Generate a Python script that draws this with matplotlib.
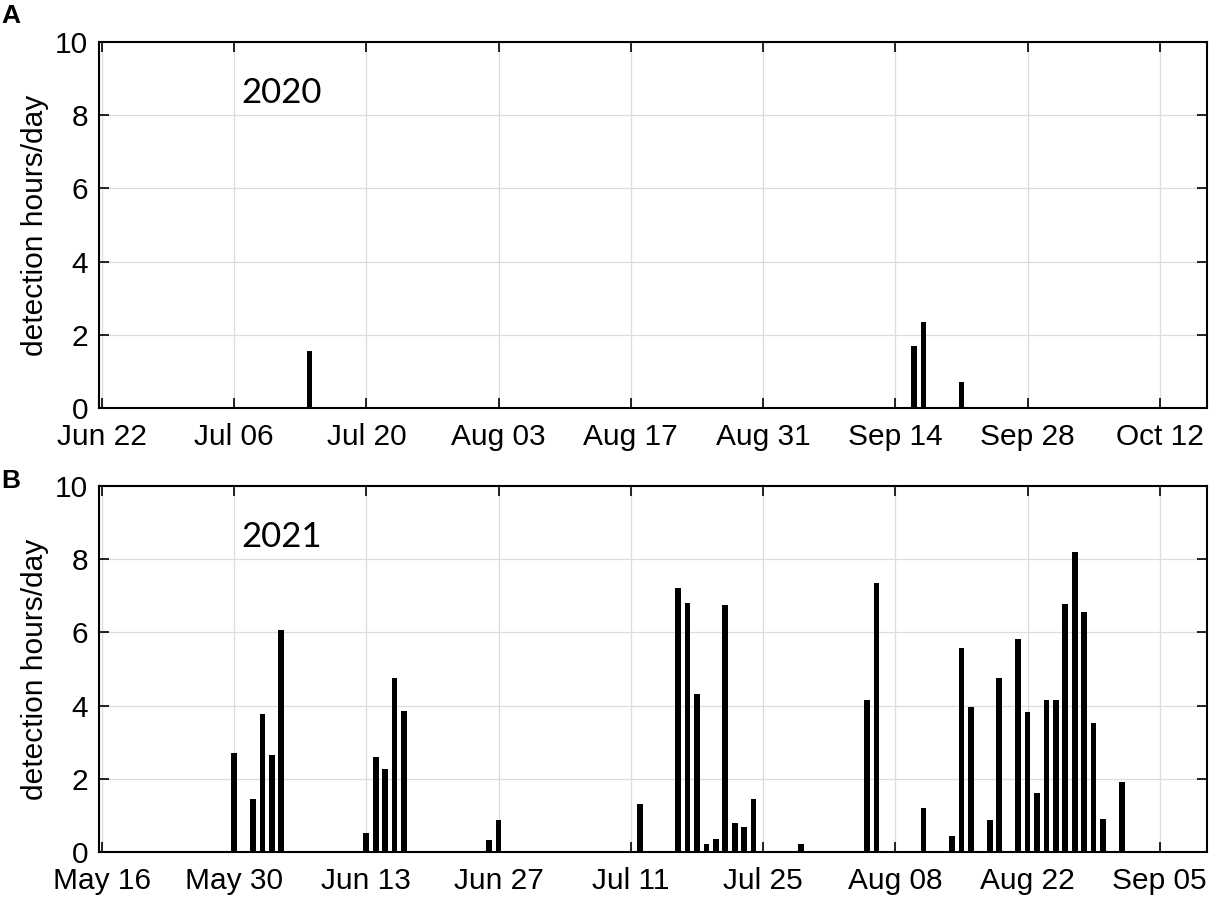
import matplotlib
matplotlib.use("Agg")
import matplotlib.pyplot as plt
import matplotlib.dates as mdates
import numpy as np

# 2020 season (panel A)
days_2020 = ["2020-07-14", "2020-09-16", "2020-09-17", "2020-09-21"]
hours_2020 = [1.55, 1.70, 2.36, 0.71]
ticks_2020 = ["2020-06-22", "2020-07-06", "2020-07-20", "2020-08-03", "2020-08-17",
              "2020-08-31", "2020-09-14", "2020-09-28", "2020-10-12"]

# 2021 season (panel B)
days_2021 = ["2021-05-30", "2021-06-01", "2021-06-02", "2021-06-03", "2021-06-04",
             "2021-06-13", "2021-06-14", "2021-06-15", "2021-06-16", "2021-06-17",
             "2021-06-26", "2021-06-27",
             "2021-07-12", "2021-07-16", "2021-07-17", "2021-07-18", "2021-07-19",
             "2021-07-20", "2021-07-21", "2021-07-22", "2021-07-23", "2021-07-24",
             "2021-07-29",
             "2021-08-05", "2021-08-06", "2021-08-11", "2021-08-14", "2021-08-15",
             "2021-08-16", "2021-08-18", "2021-08-19", "2021-08-21", "2021-08-22",
             "2021-08-23", "2021-08-24", "2021-08-25", "2021-08-26", "2021-08-27",
             "2021-08-28", "2021-08-29", "2021-08-30", "2021-09-01"]
hours_2021 = [2.70, 1.46, 3.76, 2.66, 6.06,
              0.52, 2.60, 2.26, 4.76, 3.86,
              0.32, 0.87,
              1.31, 7.20, 6.80, 4.31, 0.21,
              0.36, 6.76, 0.80, 0.67, 1.46,
              0.21,
              4.16, 7.36, 1.21, 0.43, 5.57,
              3.96, 0.87, 4.76, 5.81, 3.82,
              1.61, 4.16, 4.16, 6.77, 8.21,
              6.56, 3.52, 0.91, 1.91]
ticks_2021 = ["2021-05-16", "2021-05-30", "2021-06-13", "2021-06-27", "2021-07-11",
              "2021-07-25", "2021-08-08", "2021-08-22", "2021-09-05"]

plt.rcParams['font.family'] = ['Liberation Sans', 'DejaVu Sans']

fig = plt.figure(figsize=(12.14, 9), dpi=100)
W, H = 1214, 900


def panel(rect, days, hours, ticks, end, year, letter, letter_y):
    l, t, r, b = rect
    ax = fig.add_axes([l / W, 1 - b / H, (r - l) / W, (b - t) / H])
    d = mdates.date2num(np.array(days, dtype="datetime64[D]"))
    tk = mdates.date2num(np.array(ticks, dtype="datetime64[D]"))
    ax.bar(d, hours, width=0.6, color="black", zorder=3)
    ax.set_xlim(tk[0] - 0.3, mdates.date2num(np.datetime64(end)))
    ax.set_ylim(0, 10)
    ax.set_xticks(tk)
    ax.xaxis.set_major_formatter(mdates.DateFormatter("%b %d"))
    ax.set_yticks([0, 2, 4, 6, 8, 10])
    ax.grid(True, color="#dcdcdc", linewidth=0.9, zorder=0)
    ax.tick_params(direction="in", length=7, width=1.2, labelsize=21.5,
                   top=True, right=True, colors="black")
    ax.tick_params(axis="x", pad=11)
    ax.tick_params(axis="y", pad=8)
    for s in ax.spines.values():
        s.set_linewidth(1.5)
    ax.set_ylabel("detection hours/day", fontsize=21.5, labelpad=4)
    ax.text(tk[1] + 0.8, 8.6, year, fontsize=25, family=["Lato", "DejaVu Sans"],
            va="center", ha="left")
    fig.text(1 / W, 1 - letter_y / H, letter, fontsize=19, fontweight="bold",
             va="center", ha="left")
    return ax


panel((99, 42, 1207, 408), days_2020, hours_2020, ticks_2020, "2020-10-17",
      "2020", "A", 16)
panel((99, 486, 1207, 852), days_2021, hours_2021, ticks_2021, "2021-09-10",
      "2021", "B", 481)

fig.savefig("out.png", dpi=100)
